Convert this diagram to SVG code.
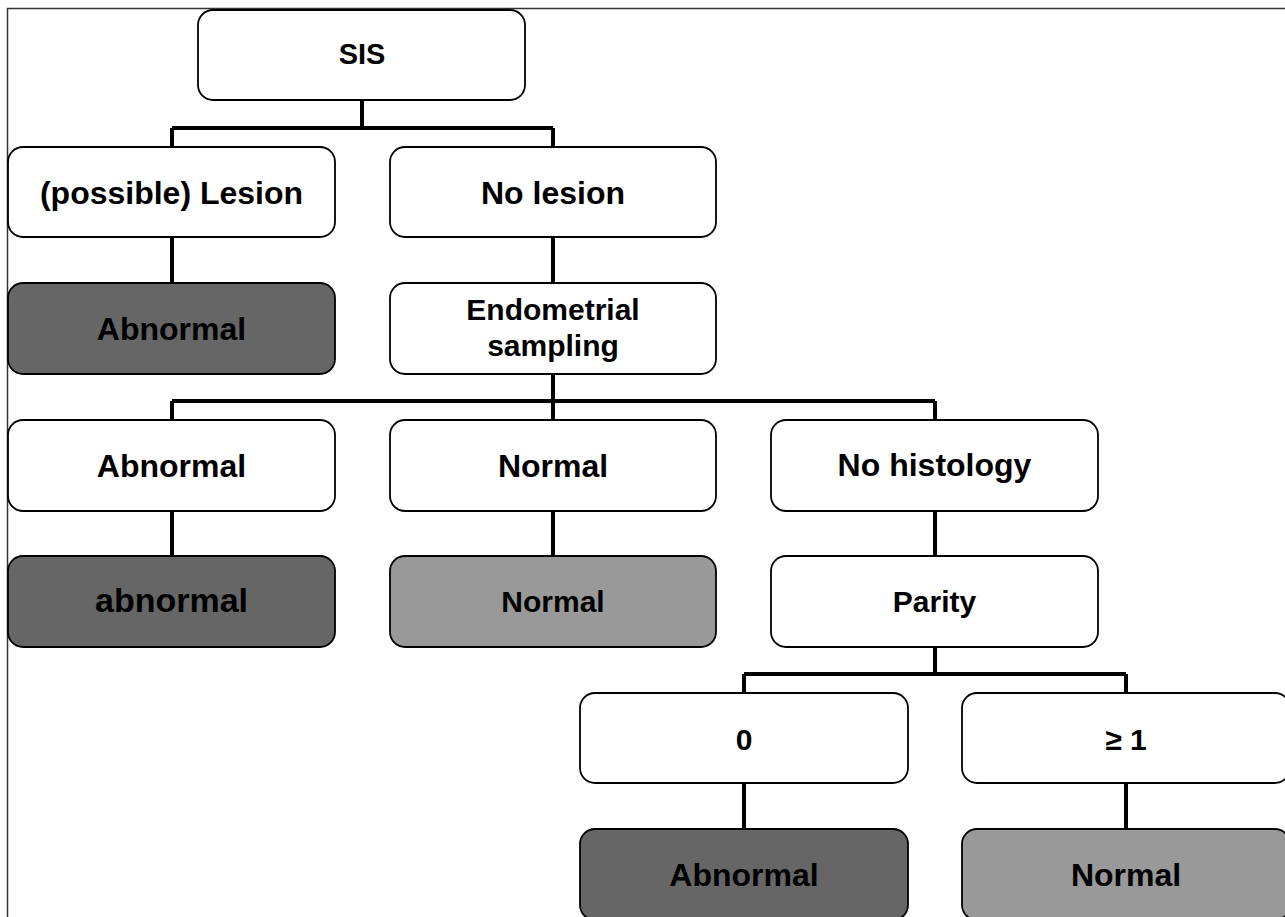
<svg xmlns="http://www.w3.org/2000/svg" width="1285" height="917" viewBox="0 0 1285 917">
<style>
.n rect{stroke:#000;stroke-width:1.8}
.w{fill:#fff}.d{fill:#666}.g{fill:#999}
text{font-family:"Liberation Sans",Arial,sans-serif;font-weight:bold;fill:#000;text-anchor:middle}
.c{fill:none;stroke:#000;stroke-width:4}
</style>
<rect x="0" y="0" width="1285" height="917" fill="#fff"/>
<rect x="7.5" y="8.5" width="1300" height="940" fill="none" stroke="#333" stroke-width="1.5"/>
<g id="connectors" class="c">
<path d="M362 100V128M172 128H553M172 128V147M553 128V147"/>
<path d="M172 237V283M553 237V283"/>
<path d="M553 374V401M172 401H935M172 401V420M553 401V420M935 401V420"/>
<path d="M172 511V556M553 511V556M935 511V556"/>
<path d="M935 647V674M744 674H1126M744 674V693M1126 674V693"/>
<path d="M744 783V829M1126 783V829"/>
</g>
<g id="sis" class="n"><rect class="w" x="198" y="10" width="327" height="90" rx="15"/><text x="362" y="64" font-size="29">SIS</text></g>
<g id="lesion" class="n"><rect class="w" x="8" y="147" width="327" height="90" rx="15"/><text x="171.5" y="204" font-size="32">(possible) Lesion</text></g>
<g id="nolesion" class="n"><rect class="w" x="390" y="147" width="326" height="90" rx="15"/><text x="553" y="204" font-size="32">No lesion</text></g>
<g id="abn1" class="n"><rect class="d" x="8" y="283" width="327" height="91" rx="15"/><text x="171.5" y="340" font-size="32">Abnormal</text></g>
<g id="endo" class="n"><rect class="w" x="390" y="283" width="326" height="91" rx="15"/><text x="553" y="320" font-size="30">Endometrial</text><text x="553" y="356" font-size="30">sampling</text></g>
<g id="abn2" class="n"><rect class="w" x="8" y="420" width="327" height="91" rx="15"/><text x="171.5" y="477" font-size="32">Abnormal</text></g>
<g id="norm2" class="n"><rect class="w" x="390" y="420" width="326" height="91" rx="15"/><text x="553" y="477" font-size="32">Normal</text></g>
<g id="nohist" class="n"><rect class="w" x="771" y="420" width="327" height="91" rx="15"/><text x="934.5" y="476" font-size="32">No histology</text></g>
<g id="abn3" class="n"><rect class="d" x="8" y="556" width="327" height="91" rx="15"/><text x="171.5" y="612" font-size="34">abnormal</text></g>
<g id="norm3" class="n"><rect class="g" x="390" y="556" width="326" height="91" rx="15"/><text x="553" y="612" font-size="30">Normal</text></g>
<g id="parity" class="n"><rect class="w" x="771" y="556" width="327" height="91" rx="15"/><text x="934.5" y="612" font-size="30">Parity</text></g>
<g id="p0" class="n"><rect class="w" x="580" y="693" width="328" height="90" rx="15"/><text x="744" y="750" font-size="30">0</text></g>
<g id="p1" class="n"><rect class="w" x="962" y="693" width="328" height="90" rx="15"/><text x="1126" y="750" font-size="30">≥ 1</text></g>
<g id="abn4" class="n"><rect class="d" x="580" y="829" width="328" height="91" rx="15"/><text x="744" y="886" font-size="32">Abnormal</text></g>
<g id="norm4" class="n"><rect class="g" x="962" y="829" width="328" height="91" rx="15"/><text x="1126" y="886" font-size="32">Normal</text></g>
</svg>
